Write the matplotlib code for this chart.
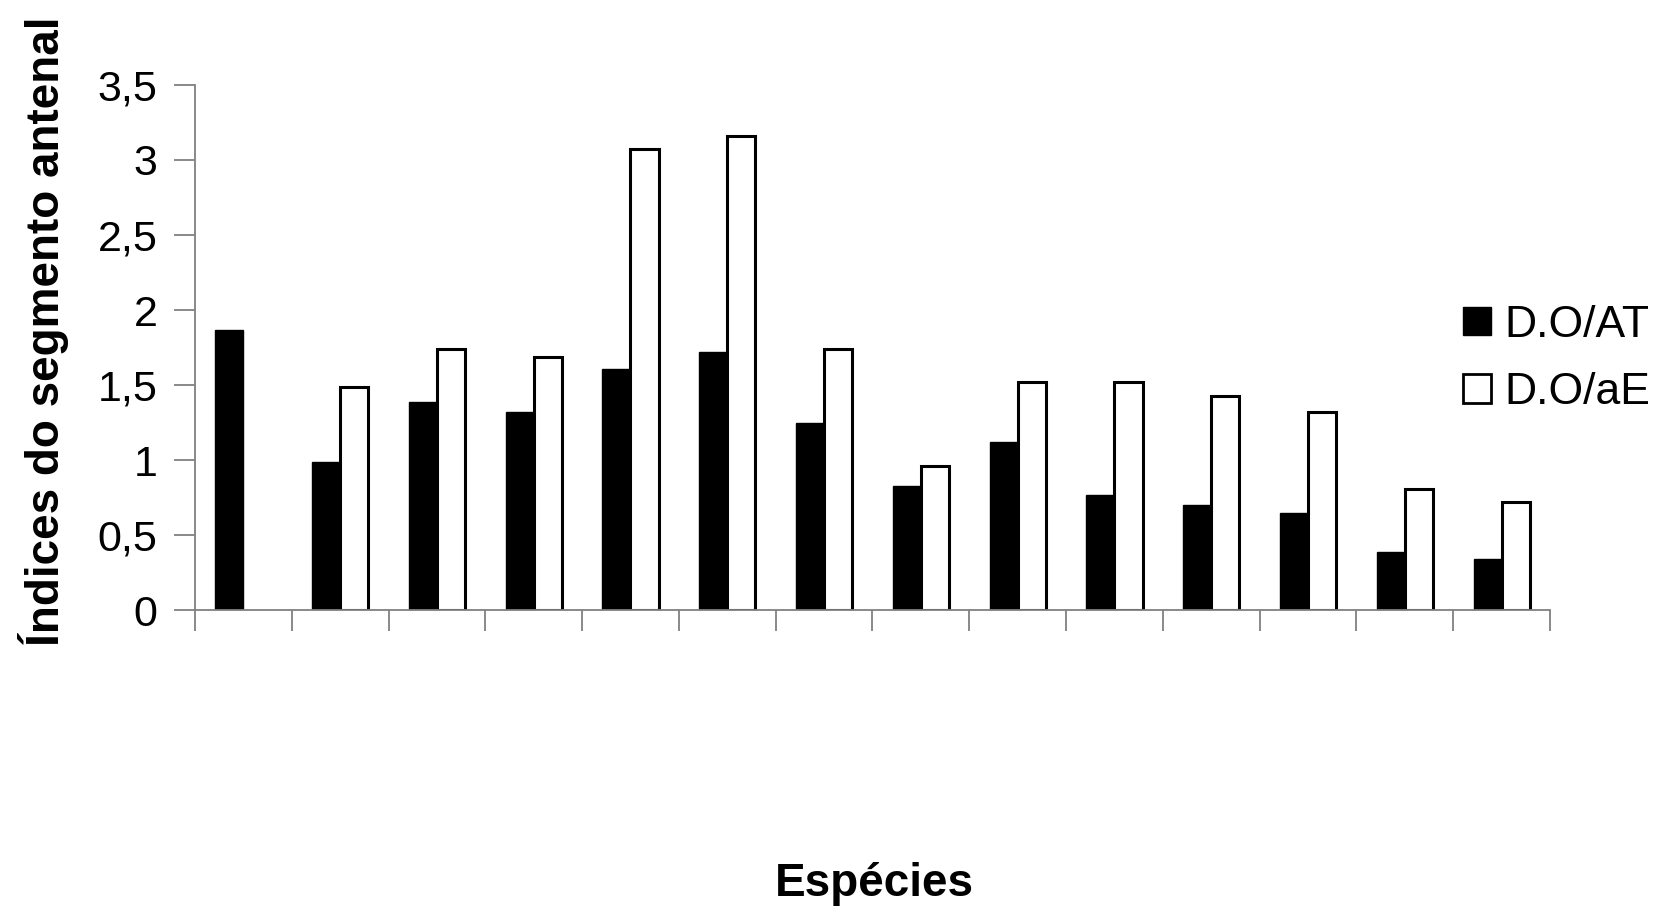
import numpy as np
import matplotlib.pyplot as plt
from matplotlib.patches import Patch

plt.rcParams['font.family'] = ['Liberation Sans', 'DejaVu Sans']

# Values (14 species, two indices)
especies = [str(i) for i in range(1, 15)]
do_at = [1.87, 0.99, 1.39, 1.32, 1.61, 1.72, 1.25, 0.83, 1.12, 0.77, 0.70, 0.65, 0.39, 0.34]
do_ae = [0.0, 1.49, 1.74, 1.69, 3.07, 3.16, 1.74, 0.96, 1.52, 1.52, 1.43, 1.32, 0.81, 0.72]
y_ticks = [0, 0.5, 1, 1.5, 2, 2.5, 3, 3.5]
y_labels = ['0', '0,5', '1', '1,5', '2', '2,5', '3', '3,5']

fig = plt.figure(figsize=(16.69, 9.11), dpi=100)
ax = fig.add_axes([0.1168, 0.3304, 0.8119, 0.5763])

x = np.arange(len(especies))
w = 0.29
ax.bar(x - 0.145, do_at, width=w, color='black', edgecolor='black', linewidth=1)
white = [v if v > 0 else np.nan for v in do_ae]
ax.bar(x + 0.145, white, width=w, color='white', edgecolor='black', linewidth=2.2)

ax.set_xlim(-0.5, len(especies) - 0.5)
ax.set_ylim(0, 3.5)
ax.set_yticks(y_ticks)
ax.set_yticklabels(y_labels, fontsize=31)
ax.set_xticks(np.arange(-0.5, len(especies), 1.0))
ax.set_xticklabels([])
ax.tick_params(axis='both', direction='out', length=15, width=1.3, color='#808080')
ax.tick_params(axis='y', pad=12)

for s in ['top', 'right']:
    ax.spines[s].set_visible(False)
for s in ['left', 'bottom']:
    ax.spines[s].set_color('#808080')
    ax.spines[s].set_linewidth(1.3)

fig.text(0.026, 0.636, 'Índices do segmento antenal', rotation=90,
         fontsize=33, fontweight='bold', ha='center', va='center')
fig.text(0.524, 0.03, 'Espécies', fontsize=33, fontweight='bold',
         ha='center', va='center')

handles = [Patch(facecolor='black', edgecolor='black', label='D.O/AT'),
           Patch(facecolor='white', edgecolor='black', linewidth=2, label='D.O/aE')]
fig.legend(handles=handles, loc='center left', bbox_to_anchor=(0.8766, 0.606),
           frameon=False, fontsize=32, handlelength=0.62, handleheight=0.62,
           handletextpad=0.3, labelspacing=0.6, borderpad=0, borderaxespad=0)

plt.savefig('out.png', dpi=100)
